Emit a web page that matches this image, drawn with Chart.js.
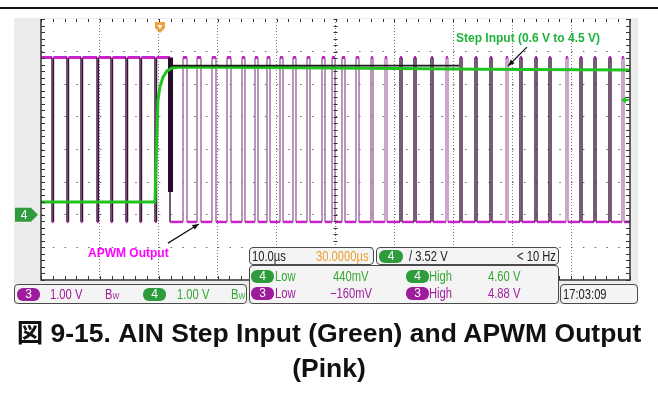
<!DOCTYPE html>
<html lang="en">
<head>
<meta charset="UTF-8">
<title>AIN Step Input (Green) and APWM Output (Pink)</title>
<script src="https://cdn.jsdelivr.net/npm/chart.js"></script>
<style>
  html, body { margin: 0; padding: 0; background: #fff; }
  body { position: relative; width: 658px; height: 419px; overflow: hidden; font-family: "Liberation Sans", Arial, sans-serif; }
  #rule { position: absolute; left: 0; top: 7px; width: 658px; height: 2px; background: #111; }
  #scope { position: absolute; left: 14px; top: 18px; width: 624px; height: 286px; background: #ececec; }
  #scopeChart { position: absolute; left: 0; top: 0; }
  .note { position: absolute; font-weight: bold; font-size: 12px; line-height: 14px; white-space: nowrap; }
  .box { position: absolute; box-sizing: border-box; border: 1.5px solid #4a4a4a; border-radius: 4px; background: #f4f4f4; }
  .t { position: absolute; white-space: nowrap; font-family: "Liberation Sans", Arial, sans-serif; font-size: 14px; line-height: 15px; transform: scaleX(0.8); transform-origin: 0 50%; }
  .badge { position: absolute; height: 13px; line-height: 13px; border-radius: 6px; color: #fff; text-align: center; font-family: "Liberation Sans", Arial, sans-serif; font-size: 12px; }
  .g { color: #34a834; } .m { color: #a01ea0; } .o { color: #eda030; } .k { color: #222; }
  .bg { background: #2e9c3c; } .bm { background: #9c1c9c; }
  .sub { font-size: 9px; }
  #caption { position: absolute; left: 0; top: 316px; width: 658px; text-align: center; font-weight: bold; font-size: 26.5px; line-height: 35px; font-family: "Liberation Sans", Arial, "Noto Sans CJK JP", sans-serif; color: #111; }
</style>
</head>
<body>
<div id="rule"></div>
<div id="scope"></div>
<canvas id="scopeChart" width="658" height="310"></canvas>

<div class="note" style="left:456px; top:31px; color:#1eb43c;">Step Input (0.6 V to 4.5 V)</div>
<div class="note" style="left:88px; top:246px; color:#ff00ff;">APWM Output</div>

<div class="box" style="left:249px; top:247px; width:125px; height:18px;"></div>
<div class="t k" style="left:252px; top:248.5px;">10.0µs</div>
<div class="t o" style="left:316px; top:248.5px;">30.0000µs</div>

<div class="box" style="left:376px; top:247px; width:183px; height:18px;"></div>
<div class="badge bg" style="left:379px; top:249.5px; width:24px;">4</div>
<div class="t k" style="left:409px; top:248.5px;">/ 3.52 V</div>
<div class="t k" style="left:517px; top:248.5px;">&lt; 10 Hz</div>

<div class="box" style="left:249px; top:265px; width:310px; height:39px;"></div>
<div class="badge bg" style="left:251px; top:269.5px; width:23px;">4</div>
<div class="t g" style="left:275px; top:268.5px;">Low</div>
<div class="t g" style="left:333px; top:268.5px;">440mV</div>
<div class="badge bg" style="left:406px; top:269.5px; width:23px;">4</div>
<div class="t g" style="left:429px; top:268.5px;">High</div>
<div class="t g" style="left:488px; top:268.5px;">4.60 V</div>
<div class="badge bm" style="left:251px; top:286.5px; width:23px;">3</div>
<div class="t m" style="left:275px; top:285.5px;">Low</div>
<div class="t m" style="left:330px; top:285.5px;">−160mV</div>
<div class="badge bm" style="left:406px; top:286.5px; width:23px;">3</div>
<div class="t m" style="left:429px; top:285.5px;">High</div>
<div class="t m" style="left:488px; top:285.5px;">4.88 V</div>

<div class="box" style="left:14px; top:284px; width:233px; height:20px;"></div>
<div class="badge bm" style="left:17px; top:287.5px; width:23px;">3</div>
<div class="t m" style="left:50px; top:286.5px;">1.00 V</div>
<div class="t m" style="left:105px; top:286.5px;">B<span class="sub">W</span></div>
<div class="badge bg" style="left:143px; top:287.5px; width:23px;">4</div>
<div class="t g" style="left:177px; top:286.5px;">1.00 V</div>
<div class="t g" style="left:231px; top:286.5px;">B<span class="sub">W</span></div>

<div class="box" style="left:560px; top:284px; width:78px; height:20px;"></div>
<div class="t k" style="left:563px; top:286.5px;">17:03:09</div>

<div id="caption">図 9-15. AIN Step Input (Green) and APWM Output<br>(Pink)</div>

<script>
// time axis: 10 us/div, 10 divisions; y axis: volts of channel 4 (1 V/div, ground 2 div above bottom)
const timeMin = 0, timeMax = 100;
const voltMin = -2, voltMax = 6;

// AIN step input (channel 4)
const greenTime  = [0, 19.35, 19.5, 19.69, 19.86, 20.2, 20.71, 21.39, 22.24, 23.6, 50, 75, 100];
const greenVolts = [0.39, 0.39, 1.4, 2.5, 3.52, 3.92, 4.22, 4.41, 4.50, 4.53, 4.50, 4.46, 4.44];

// dark persistence trace lying just above the settled input
const darkTime  = [22.0, 71.0];
const darkVolts = [4.57, 4.57];

// APWM output (channel 3): high pulses, rising and falling edge times in us
const pulseRise = [0, 2.12, 4.67, 7.05, 9.76, 12.14, 14.69, 17.06, 19.61, 24.11, 26.49, 29.03, 31.58, 34.13, 36.33, 38.37, 40.58, 42.78, 45.16, 47.71, 49.41, 51.10, 53.48, 56.03, 58.40, 60.95, 63.33, 66.21, 68.76, 71.14, 73.68, 76.23, 78.95, 81.32, 83.87, 86.25, 89.13, 91.51, 93.89, 96.43, 98.64];
const pulseFall = [1.87, 4.41, 6.79, 9.51, 11.88, 14.43, 16.81, 19.35, 21.90, 24.79, 27.16, 29.71, 32.26, 34.63, 36.84, 38.88, 41.09, 43.29, 45.67, 48.22, 49.92, 51.61, 53.99, 56.37, 58.74, 61.29, 63.67, 66.55, 69.10, 71.48, 74.02, 76.57, 79.29, 81.66, 84.21, 86.59, 89.47, 91.85, 94.23, 96.77, 98.98];
const ch3High = 4.88, ch3Low = -0.16;
const ch3Offset = -0.06;   // ch3 ground sits a hair below ch4 ground

// thick settling edge right after the step
const blockTime  = [21.99, 21.99];
const blockVolts = [4.88, 0.76];

const trigTime = 20.2, trigLevel = 3.52;

const pinkPts = [];
pulseRise.forEach((r, i) => {
  const f = pulseFall[i];
  if (r > timeMin) pinkPts.push({x: r, y: ch3Low + ch3Offset, k: i});
  pinkPts.push({x: r, y: ch3High + ch3Offset, k: i});
  pinkPts.push({x: f, y: ch3High + ch3Offset, k: i});
  pinkPts.push({x: f, y: ch3Low + ch3Offset, k: i});
});
pinkPts.push({x: timeMax, y: ch3Low + ch3Offset, k: pulseRise.length});

function edgeColor(k) {
  if (k <= 8) return '#3b103b';
  if (k < 24) return '#9a6a9e';
  return k % 4 === 0 ? '#b482b4' : '#3b183b';
}
const isEdge = c => c.p0.parsed.x === c.p1.parsed.x;

function arrow(ctx, x0, y0, x1, y1) {
  const a = Math.atan2(y1 - y0, x1 - x0), h = 7;
  ctx.beginPath(); ctx.moveTo(x0, y0); ctx.lineTo(x1, y1); ctx.stroke();
  ctx.beginPath();
  ctx.moveTo(x1, y1);
  ctx.lineTo(x1 - h * Math.cos(a - 0.4), y1 - h * Math.sin(a - 0.4));
  ctx.lineTo(x1 - h * Math.cos(a + 0.4), y1 - h * Math.sin(a + 0.4));
  ctx.closePath(); ctx.fill();
}

const scopeDecor = {
  id: 'scopeDecor',
  beforeDraw(chart) {
    const {ctx, chartArea: a} = chart;
    ctx.save();
    ctx.fillStyle = '#fff';
    ctx.fillRect(a.left, a.top, a.right - a.left, a.bottom - a.top);
    ctx.restore();
  },
  afterDatasetsDraw(chart) {
    const {ctx, chartArea: a, scales: {x, y}} = chart;
    ctx.save();
    ctx.strokeStyle = '#333'; ctx.lineWidth = 1.5;
    ctx.beginPath();
    ctx.moveTo(a.left, a.top); ctx.lineTo(a.left, a.bottom); ctx.lineTo(a.right, a.bottom); ctx.lineTo(a.right, a.top);
    ctx.stroke();
    ctx.lineWidth = 1;
    const cx = x.getPixelForValue((timeMin + timeMax) / 2);
    ctx.beginPath();
    for (let v = timeMin; v <= timeMax + 1e-6; v += 2) {
      const px = Math.round(x.getPixelForValue(v)) + 0.5;
      ctx.moveTo(px, a.bottom); ctx.lineTo(px, a.bottom - 4);
      ctx.moveTo(px, a.top); ctx.lineTo(px, a.top + 3);
    }
    for (let v = voltMin; v <= voltMax + 1e-6; v += 0.2) {
      const py = Math.round(y.getPixelForValue(v)) + 0.5;
      ctx.moveTo(a.left, py); ctx.lineTo(a.left + 4, py);
      ctx.moveTo(a.right, py); ctx.lineTo(a.right - 4, py);
      ctx.moveTo(cx - 2, py); ctx.lineTo(cx + 2, py);
    }
    ctx.stroke();

    // channel 4 ground marker
    const g = y.getPixelForValue(0);
    ctx.fillStyle = '#2e9c3c';
    ctx.beginPath();
    ctx.moveTo(15, g - 7); ctx.lineTo(31, g - 7); ctx.lineTo(38, g); ctx.lineTo(31, g + 7); ctx.lineTo(15, g + 7);
    ctx.closePath(); ctx.fill();
    ctx.fillStyle = '#fff';
    ctx.font = '12px "Liberation Sans", Arial, sans-serif';
    ctx.textAlign = 'center'; ctx.textBaseline = 'middle';
    ctx.fillText('4', 24, g + 0.5);

    // trigger level marker on the right edge
    const tl = y.getPixelForValue(trigLevel);
    ctx.fillStyle = '#22c42a';
    ctx.beginPath();
    ctx.moveTo(a.right - 9, tl); ctx.lineTo(a.right - 4, tl - 3.5); ctx.lineTo(a.right - 4, tl + 3.5);
    ctx.closePath(); ctx.fill();
    ctx.fillRect(a.right - 5, tl - 1, 4, 2);

    // trigger time marker at the top
    const tt = x.getPixelForValue(trigTime);
    ctx.fillStyle = '#f0a040';
    ctx.beginPath();
    ctx.moveTo(tt - 5, a.top + 3); ctx.lineTo(tt + 5, a.top + 3); ctx.lineTo(tt + 5, a.top + 9);
    ctx.lineTo(tt, a.top + 14); ctx.lineTo(tt - 5, a.top + 9);
    ctx.closePath(); ctx.fill();
    ctx.fillStyle = '#fff';
    ctx.beginPath();
    ctx.moveTo(tt - 2.5, a.top + 6); ctx.lineTo(tt + 2.5, a.top + 6); ctx.lineTo(tt, a.top + 10);
    ctx.closePath(); ctx.fill();

    // callout arrows
    ctx.strokeStyle = '#111'; ctx.fillStyle = '#111'; ctx.lineWidth = 1.2;
    arrow(ctx, x.getPixelForValue(82.5), y.getPixelForValue(5.14), x.getPixelForValue(79.3), y.getPixelForValue(4.56));
    arrow(ctx, x.getPixelForValue(21.56), y.getPixelForValue(-0.87), x.getPixelForValue(26.8), y.getPixelForValue(-0.28));
    ctx.restore();
  }
};

new Chart(document.getElementById('scopeChart'), {
  type: 'line',
  data: {
    datasets: [
      {
        label: 'dark',
        data: darkTime.map((t, i) => ({x: t, y: darkVolts[i]})),
        borderColor: '#1a1a1a', borderWidth: 1.6, pointRadius: 0, order: 0
      },
      {
        label: 'AIN Step Input',
        data: greenTime.map((t, i) => ({x: t, y: greenVolts[i]})),
        borderColor: '#1fc41f', borderWidth: 3, pointRadius: 0, order: 1
      },
      {
        label: 'settling',
        data: blockTime.map((t, i) => ({x: t, y: blockVolts[i] + ch3Offset})),
        borderColor: '#2a0a2a', borderWidth: 5, pointRadius: 0, order: 2
      },
      {
        label: 'APWM Output',
        data: pinkPts,
        pointRadius: 0, order: 3,
        borderColor: '#cc22cc', borderWidth: 3,
        segment: {
          borderColor: c => isEdge(c) ? edgeColor(pinkPts[c.p0DataIndex].k) : '#cc22cc',
          borderWidth: c => isEdge(c) ? 1.4 : (c.p0.parsed.y > 1 ? 3 : 2.5)
        }
      }
    ]
  },
  options: {
    responsive: false,
    animation: false,
    devicePixelRatio: 1,
    layout: { padding: { left: 41, right: 28, top: 19, bottom: 30 } },
    plugins: { legend: { display: false }, tooltip: { enabled: false } },
    elements: { line: { tension: 0 } },
    scales: {
      x: {
        type: 'linear', min: timeMin, max: timeMax,
        ticks: { display: false, stepSize: 10 },
        grid: { drawTicks: false, color: c => (c.tick.value === timeMin || c.tick.value === timeMax) ? 'transparent' : '#7a7a7a' },
        border: { display: false, dash: [1, 2] }
      },
      y: {
        min: voltMin, max: voltMax,
        ticks: { display: false, stepSize: 1 },
        grid: { drawTicks: false, color: c => (c.tick.value === voltMin || c.tick.value === voltMax) ? 'transparent' : '#6a6a6a' },
        border: { display: false, dash: [1.5, 10.28] }
      }
    }
  },
  plugins: [scopeDecor]
});
</script>
</body>
</html>
